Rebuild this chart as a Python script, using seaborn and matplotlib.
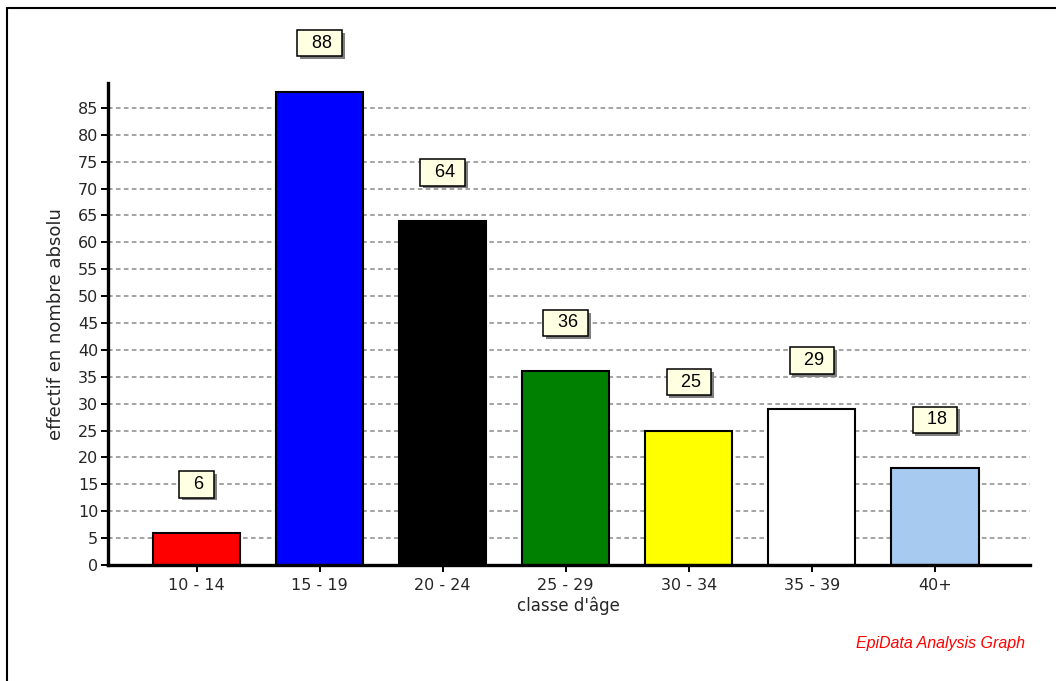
import matplotlib
matplotlib.use("Agg")
import matplotlib.pyplot as plt
import matplotlib.patheffects as pe
import seaborn as sns
import pandas as pd

# data
classes = ["10 - 14", "15 - 19", "20 - 24", "25 - 29", "30 - 34", "35 - 39", "40+"]
effectifs = [6, 88, 64, 36, 25, 29, 18]
bar_colors = ["#ff0000", "#0000ff", "#000000", "#008000", "#ffff00", "#ffffff", "#a6caf0"]

df = pd.DataFrame({"classe": classes, "effectif": effectifs})

sns.set_theme(style="white")
plt.rcParams["font.family"] = ["DejaVu Sans"]

fig = plt.figure(figsize=(10.56, 6.81), dpi=100)
ax = fig.add_axes([0.1023, 0.1703, 0.8727, 0.7077])

sns.barplot(data=df, x="classe", y="effectif", hue="classe", palette=bar_colors,
            legend=False, width=0.71, edgecolor="black", linewidth=1.5,
            saturation=1, ax=ax, zorder=3)

ax.set_xlim(-0.72, 6.77)
ax.set_ylim(0, 89.6)
ax.set_yticks(range(0, 90, 5))
ax.yaxis.grid(True, linestyle=(0, (3, 2.2)), color="#8a8a8a", linewidth=1.1, zorder=0)
ax.xaxis.grid(False)

for s in ["top", "right"]:
    ax.spines[s].set_visible(False)
for s in ["left", "bottom"]:
    ax.spines[s].set_visible(True)
    ax.spines[s].set_color("black")
    ax.spines[s].set_linewidth(2.4)
    ax.spines[s].set_zorder(4)

ax.tick_params(axis="both", which="major", direction="out", length=5, width=1.4,
               color="black", labelsize=11.5, left=True, bottom=True, pad=2)
ax.tick_params(axis="x", pad=4)
ax.set_xlabel("classe d'âge", fontsize=12, labelpad=3)
ax.set_ylabel("effectif en nombre absolu", fontsize=13, labelpad=9)

# value labels in beige boxes with a grey shadow
for i, v in enumerate(effectifs):
    t = ax.annotate("  " + str(v) + " ", (i, v + 9), ha="center", va="center",
                    fontsize=13, family="Liberation Sans", color="black",
                    bbox=dict(boxstyle="square,pad=0.26", fc="#ffffe1", ec="black", lw=1.1),
                    annotation_clip=False, zorder=6)
    t.get_bbox_patch().set_path_effects([
        pe.SimplePatchShadow(offset=(2, -2), shadow_rgbFace="#808080", alpha=1),
        pe.Normal()])

fig.text(0.9705, 0.0558, "EpiData Analysis Graph", color="red", style="italic",
         fontsize=11.5, family="Liberation Sans", ha="right", va="center")

# frame lines on top and left of the picture
fig.add_artist(plt.Line2D([0.0066, 1], [0.988, 0.988], color="black", lw=1.5,
                          transform=fig.transFigure))
fig.add_artist(plt.Line2D([0.0066, 0.0066], [0, 0.988], color="black", lw=1.5,
                          transform=fig.transFigure))

plt.savefig("out.png", dpi=100)
